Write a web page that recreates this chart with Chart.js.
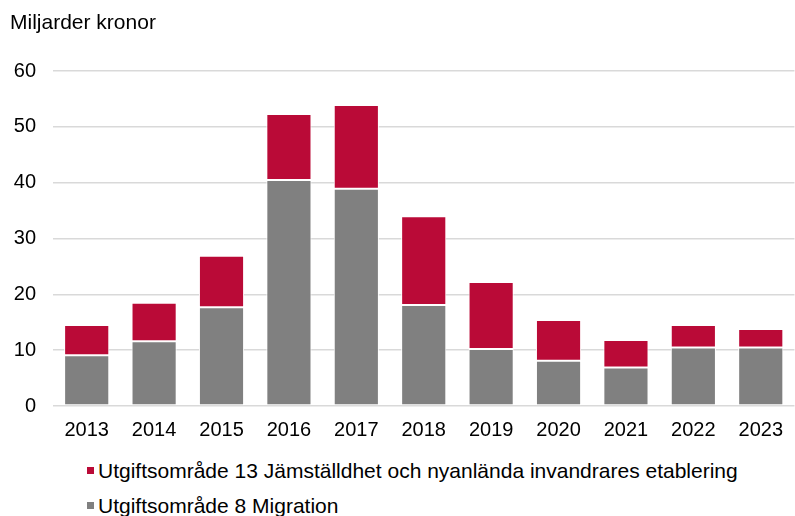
<!DOCTYPE html>
<html>
<head>
<meta charset="utf-8">
<script src="https://cdn.jsdelivr.net/npm/chart.js@4"></script>
<style>
  body { margin:0; background:#fff; font-family:"Liberation Sans", Arial, sans-serif; color:#000; }
  #wrap { position:relative; width:795px; height:516px; }
  #chartBox { position:absolute; left:0; top:0; width:795px; height:450px; }
  #unit { position:absolute; left:10px; top:11px; font-size:21px; line-height:1; }
  .leg { position:absolute; left:87px; font-size:21px; line-height:1; white-space:nowrap; }
  .leg span { display:inline-block; width:7px; height:7px; margin-right:4px; vertical-align:middle; position:relative; top:-2px; }
</style>
</head>
<body>
<div id="wrap">
  <div id="chartBox"><canvas id="chart" width="795" height="450"></canvas></div>
  <div id="unit">Miljarder kronor</div>
  <div class="leg" id="leg1" style="top:460px"></div>
  <div class="leg" id="leg2" style="top:495px"></div>
</div>
<script>
const years = ['2013','2014','2015','2016','2017','2018','2019','2020','2021','2022','2023'];
const migration = [9.1, 11.6, 17.7, 40.5, 38.9, 18.1, 10.2, 8.1, 6.9, 10.5, 10.5];
const etablering = [5.4, 6.9, 9.2, 11.8, 15.0, 15.9, 12.0, 7.3, 4.9, 4.0, 3.3];

const labelMigration = 'Utgiftsområde 8 Migration';
const labelEtablering = 'Utgiftsområde 13 Jämställdhet och nyanlända invandrares etablering';
const grey = '#808080';
const red = '#BA0A37';

// HTML legend (red first, then grey)
[[labelEtablering, red, 'leg1'], [labelMigration, grey, 'leg2']].forEach(([txt, col, id])=>{
    const el = document.getElementById(id);
    const sw = document.createElement('span');
    sw.style.background = col;
    el.appendChild(sw);
    el.appendChild(document.createTextNode(txt));
});

const font = { family:'"Liberation Sans", Arial, sans-serif', size:20 };

new Chart(document.getElementById('chart').getContext('2d'), {
    type:'bar',
    data:{
        labels: years,
        datasets:[
            { label: labelMigration, data: migration, backgroundColor: grey, borderColor:'#fff', borderWidth:1, borderSkipped:false },
            { label: labelEtablering, data: etablering, backgroundColor: red, borderColor:'#fff', borderWidth:1, borderSkipped:false }
        ]
    },
    options:{
        responsive:false,
        animation:false,
        layout:{ padding:{ top:71, right:0, bottom:0, left:0 } },
        plugins:{ legend:{ display:false }, title:{ display:false }, tooltip:{ enabled:false } },
        datasets:{ bar:{ categoryPercentage:1, barPercentage:0.67 } },
        scales:{
            x:{
                stacked:true,
                grid:{ display:false, drawTicks:false },
                border:{ display:false },
                ticks:{ color:'#000', font, padding:12, maxRotation:0 },
                afterFit: s => { s.height = 44; }
            },
            y:{
                stacked:true,
                min:0, max:60,
                grid:{ color:'#d9d9d9', lineWidth:1.5, drawTicks:false },
                border:{ display:false },
                ticks:{ stepSize:10, color:'#000', font, padding:17 },
                afterFit: s => { s.width = 53; }
            }
        }
    }
});
</script>
</body>
</html>
